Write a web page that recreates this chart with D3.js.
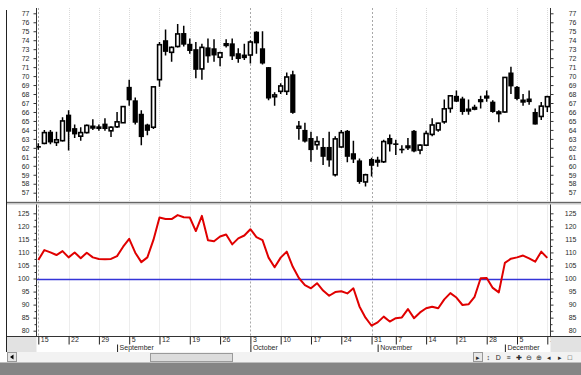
<!DOCTYPE html>
<meta charset="utf-8">
<style>
  body { margin: 0; background: #fff; }
  svg { display: block; }
  text, .tick text { font: 7px "Liberation Sans", Arial, sans-serif; fill: #2a2a2a; }
</style>
<svg width="581" height="375"></svg>
<script src="https://d3js.org/d3.v7.min.js"></script>
<script>
// trading days shown (one day of the Oct 31 week has no bar)
var dates = [
  "2005-08-15","2005-08-16","2005-08-17","2005-08-18","2005-08-19",
  "2005-08-22","2005-08-23","2005-08-24","2005-08-25","2005-08-26",
  "2005-08-29","2005-08-30","2005-08-31","2005-09-01","2005-09-02",
  "2005-09-05","2005-09-06","2005-09-07","2005-09-08","2005-09-09",
  "2005-09-12","2005-09-13","2005-09-14","2005-09-15","2005-09-16",
  "2005-09-19","2005-09-20","2005-09-21","2005-09-22","2005-09-23",
  "2005-09-26","2005-09-27","2005-09-28","2005-09-29","2005-09-30",
  "2005-10-03","2005-10-04","2005-10-05","2005-10-06","2005-10-07",
  "2005-10-10","2005-10-11","2005-10-12","2005-10-13","2005-10-14",
  "2005-10-17","2005-10-18","2005-10-19","2005-10-20","2005-10-21",
  "2005-10-24","2005-10-25","2005-10-26","2005-10-27","2005-10-28",
  "2005-10-31","2005-11-01","2005-11-02","2005-11-03",
  "2005-11-07","2005-11-08","2005-11-09","2005-11-10","2005-11-11",
  "2005-11-14","2005-11-15","2005-11-16","2005-11-17","2005-11-18",
  "2005-11-21","2005-11-22","2005-11-23","2005-11-24","2005-11-25",
  "2005-11-28","2005-11-29","2005-11-30","2005-12-01","2005-12-02",
  "2005-12-05","2005-12-06","2005-12-07","2005-12-08","2005-12-09",
  "2005-12-12"
];

var open = [
  62.2, 62.5, 63.8, 62.6, 62.8, 65.7, 64.2, 63.3, 63.7, 64.3,
  64.4, 64.7, 63.9, 64.35, 64.8, 68.8, 67.3, 65.8, 64.6, 64.3,
  69.6, 74.0, 72.65, 73.3, 74.8, 73.6, 73.0, 70.8, 73.2, 73.1,
  72.1, 73.5, 73.65, 72.55, 72.4, 72.35, 74.95, 73.1, 71.0, 67.7,
  68.3, 68.3, 70.2, 64.2, 64.0, 63.1, 62.35, 62.1, 62.1, 59.0,
  62.1, 63.9, 61.4, 60.6, 58.2, 60.75, 60.5, 60.45, 63.1, 62.5,
  61.9, 62.1, 63.9, 61.75, 62.3, 63.5, 64.0, 64.9, 66.4, 67.8,
  67.5, 66.3, 66.5, 67.35, 67.75, 67.15, 66.0, 66.0, 70.4, 68.8,
  67.25, 67.5, 66.0, 65.5, 66.6
];
var high = [
  62.5, 64.0, 64.0, 63.8, 65.4, 66.2, 64.6, 64.3, 64.6, 65.2,
  64.6, 65.3, 64.4, 66.0, 66.6, 69.6, 67.6, 66.2, 64.7, 68.8,
  73.8, 75.2, 73.3, 75.8, 75.6, 74.2, 73.8, 73.6, 74.2, 74.1,
  72.7, 74.1, 74.2, 73.1, 73.6, 74.0, 75.0, 75.0, 71.0, 68.2,
  69.2, 70.4, 70.6, 65.0, 64.8, 63.8, 63.3, 63.1, 63.8, 63.3,
  64.0, 64.0, 62.8, 60.8, 59.1, 60.9, 61.0, 62.9, 63.5, 62.9,
  62.3, 63.1, 64.0, 62.4, 63.9, 65.3, 64.8, 67.4, 67.8, 68.4,
  67.7, 67.4, 66.8, 67.8, 68.4, 67.3, 66.2, 69.9, 71.05, 68.9,
  68.0, 68.4, 66.4, 67.1, 67.8
];
var low = [
  61.8, 62.4, 62.4, 62.2, 62.7, 61.7, 63.1, 62.8, 63.6, 64.0,
  63.9, 63.9, 63.2, 64.2, 64.8, 66.7, 64.6, 62.3, 63.4, 64.1,
  68.8, 72.3, 71.6, 73.2, 73.3, 72.5, 69.75, 69.6, 71.5, 71.6,
  71.1, 73.2, 71.8, 71.5, 71.8, 71.4, 72.5, 71.3, 67.3, 66.7,
  68.0, 67.9, 65.8, 62.9, 62.6, 60.45, 61.8, 60.1, 59.9, 58.8,
  62.0, 60.4, 60.3, 58.0, 57.7, 58.8, 59.9, 60.3, 61.6, 61.2,
  61.4, 61.75, 61.5, 61.3, 62.2, 63.3, 63.8, 64.7, 65.9, 67.1,
  65.7, 65.7, 66.2, 66.4, 67.15, 65.9, 64.85, 65.9, 68.0, 67.3,
  66.7, 66.8, 64.6, 65.1, 66.0
];
var close = [
  62.1, 63.7, 62.6, 62.9, 65.0, 63.8, 63.5, 63.7, 64.5, 64.4,
  64.1, 64.1, 64.3, 64.9, 66.6, 67.3, 64.8, 63.2, 63.9, 68.8,
  73.5, 72.7, 73.2, 74.7, 73.5, 72.8, 70.7, 73.2, 72.2, 72.3,
  72.6, 73.6, 72.2, 71.9, 72.0, 73.8, 73.65, 71.4, 67.5, 67.9,
  68.9, 69.9, 65.9, 64.4, 62.7, 61.75, 62.7, 61.0, 60.6, 63.0,
  63.7, 61.0, 60.7, 58.2, 59.0, 60.0, 60.6, 62.7, 62.4, 62.4,
  61.85, 62.2, 61.6, 62.3, 63.6, 64.55, 64.75, 66.35, 67.8, 67.15,
  66.0, 66.3, 66.5, 67.35, 67.75, 66.0, 66.0, 69.85, 68.85, 67.45,
  67.3, 67.1, 64.6, 66.65, 67.7
];

// lower panel indicator
var ratio = [
  107.1, 110.9, 110.0, 109.0, 110.5, 108.1, 110.0, 107.8, 109.9, 108.1,
  107.5, 107.4, 107.5, 108.6, 112.2, 115.2, 109.9, 106.3, 108.1, 114.8,
  123.4, 122.8, 122.8, 124.3, 123.5, 123.4, 118.2, 124.0, 114.7, 114.3,
  116.1, 116.9, 113.1, 115.4, 116.5, 118.9, 115.9, 114.7, 108.0, 104.3,
  108.0, 110.3, 104.5, 100.2, 97.5, 96.25, 98.2, 95.4, 93.4, 94.8,
  95.1, 94.3, 96.25, 89.3, 85.0, 81.9, 83.2, 85.4, 83.5, 84.8,
  85.1, 88.3, 84.8, 87.0, 88.6, 89.2, 88.6, 92.0, 94.4, 92.7,
  89.85, 90.1, 93.0, 100.1, 100.2, 96.4, 94.7, 106.0, 107.6, 108.1,
  108.8, 107.7, 106.45, 110.3, 107.9
];

var priceTicks = [57,58,59,60,61,62,63,64,65,66,67,68,69,70,71,72,73,74,75,76,77];
var ratioTicks = [80,85,90,95,100,105,110,115,120,125];
var ratioMinor = [82.5,87.5,92.5,97.5,102.5,107.5,112.5,117.5,122.5];
var darkGridDates = ["2005-08-15","2005-10-03","2005-10-31"];
var monthNames = ["January","February","March","April","May","June","July",
                  "August","September","October","November","December"];

var svg = d3.select("svg");
var parse = d3.timeParse("%Y-%m-%d");

var L = 36.5, R = 550.5;
var topY0 = 8, topY1 = 201.5, botY0 = 204.5, botY1 = 336.5;

var x = d3.scalePoint().domain(dates).range([38.3, 547.3]);
var yP = d3.scaleLinear().domain([57, 77]).range([192.7, 13.3]);
var yR = d3.scaleLinear().domain([80, 125]).range([330.7, 213.3]);

var mondays = dates.filter(function (d) { return parse(d).getDay() === 1; });
var monthStarts = dates.filter(function (d, i) {
  return i > 0 && parse(d).getMonth() !== parse(dates[i - 1]).getMonth();
});

var defs = svg.append("defs");
defs.append("clipPath").attr("id", "clipTop").append("rect")
  .attr("x", L).attr("y", topY0).attr("width", R - L).attr("height", topY1 - topY0);
defs.append("clipPath").attr("id", "clipBot").append("rect")
  .attr("x", L).attr("y", botY0).attr("width", R - L).attr("height", botY1 - botY0);
defs.append("clipPath").attr("id", "clipAxis").append("rect")
  .attr("x", L).attr("y", botY1).attr("width", R - L).attr("height", 16);

// vertical grid in both panels
[[topY0, topY1], [botY0 + 1, botY1]].forEach(function (p) {
  svg.append("g").selectAll("line").data(mondays).enter().append("line")
    .attr("x1", function (d) { return Math.round(x(d)) + 0.5; })
    .attr("x2", function (d) { return Math.round(x(d)) + 0.5; })
    .attr("y1", p[0]).attr("y2", p[1])
    .attr("stroke", function (d) { return darkGridDates.indexOf(d) >= 0 ? "#a8a8a8" : "#dadada"; })
    .attr("stroke-dasharray", function (d) { return darkGridDates.indexOf(d) >= 0 ? "2,2" : "1,1"; });
});

// candles
var bars = dates.map(function (d, i) {
  return { d: d, o: open[i], h: high[i], l: low[i], c: close[i] };
});
var cg = svg.append("g").attr("clip-path", "url(#clipTop)");
cg.selectAll("line.wick").data(bars).enter().append("line")
  .attr("class", "wick")
  .attr("x1", function (b) { return x(b.d); })
  .attr("x2", function (b) { return x(b.d); })
  .attr("y1", function (b) { return yP(b.h); })
  .attr("y2", function (b) { return yP(b.l); })
  .attr("stroke", "#000").attr("stroke-width", 1.5);
cg.selectAll("rect.body").data(bars).enter().append("rect")
  .attr("class", "body")
  .attr("x", function (b) { return b.c >= b.o ? x(b.d) - 1.9 : x(b.d) - 2.6; })
  .attr("width", function (b) { return b.c >= b.o ? 3.8 : 5.2; })
  .attr("y", function (b) { return yP(Math.max(b.o, b.c)); })
  .attr("height", function (b) { return Math.max(1.6, Math.abs(yP(b.o) - yP(b.c))); })
  .attr("fill", function (b) { return b.c >= b.o ? "#fff" : "#000"; })
  .attr("stroke", function (b) { return b.c >= b.o ? "#000" : "none"; })
  .attr("stroke-width", 1.6);

// lower panel
svg.append("line").attr("x1", L).attr("x2", R)
  .attr("y1", Math.round(yR(100)) + 0.5).attr("y2", Math.round(yR(100)) + 0.5)
  .attr("stroke", "#3434d8").attr("stroke-width", 1.3);
svg.append("path").attr("clip-path", "url(#clipBot)")
  .datum(ratio)
  .attr("d", d3.line().x(function (d, i) { return x(dates[i]); }).y(function (d) { return yR(d); }))
  .attr("fill", "none").attr("stroke", "#e00000").attr("stroke-width", 2)
  .attr("stroke-linejoin", "round");

// y axes
function styleAxis(g) {
  g.select(".domain").remove();
  g.selectAll(".tick line").attr("stroke", "#333");
}
svg.append("g").attr("transform", "translate(" + L + ",0)")
  .call(d3.axisLeft(yP).tickValues(priceTicks).tickSize(3).tickPadding(4).tickFormat(d3.format("d")))
  .call(styleAxis);
svg.append("g").attr("transform", "translate(" + R + ",0)")
  .call(d3.axisRight(yP).tickValues(priceTicks).tickSize(3).tickFormat(d3.format("d")))
  .call(styleAxis)
  .selectAll("text").attr("text-anchor", "end").attr("x", 26);
svg.append("g").attr("transform", "translate(" + L + ",0)")
  .call(d3.axisLeft(yR).tickValues(ratioTicks).tickSize(3).tickPadding(4).tickFormat(d3.format("d")))
  .call(styleAxis);
svg.append("g").attr("transform", "translate(" + L + ",0)")
  .call(d3.axisLeft(yR).tickValues(ratioMinor).tickSize(2).tickFormat(""))
  .call(styleAxis);
svg.append("g").attr("transform", "translate(" + R + ",0)")
  .call(d3.axisRight(yR).tickValues(ratioTicks).tickSize(3).tickFormat(d3.format("d")))
  .call(styleAxis)
  .selectAll("text").attr("text-anchor", "end").attr("x", 26);
svg.append("g").attr("transform", "translate(" + R + ",0)")
  .call(d3.axisRight(yR).tickValues(ratioMinor).tickSize(2).tickFormat(""))
  .call(styleAxis);

// frame lines
svg.append("line").attr("x1", L).attr("x2", L).attr("y1", topY0).attr("y2", botY1).attr("stroke", "#333");
svg.append("line").attr("x1", R).attr("x2", R).attr("y1", topY0).attr("y2", botY1).attr("stroke", "#333");
svg.append("line").attr("x1", 6.5).attr("x2", 6.5).attr("y1", 10).attr("y2", 352).attr("stroke", "#222");
svg.append("rect").attr("x", 7).attr("y", 201.5).attr("width", 574).attr("height", 3).attr("fill", "#c8c8c8");
svg.append("line").attr("x1", 7).attr("x2", 581).attr("y1", 202.5).attr("y2", 202.5).attr("stroke", "#666");

// date axis
svg.append("rect").attr("x", 7).attr("y", botY1).attr("width", L - 7).attr("height", 15.5).attr("fill", "#e2e2e2");
svg.append("rect").attr("x", R).attr("y", botY1).attr("width", 581 - R).attr("height", 15.5).attr("fill", "#e2e2e2");
svg.append("line").attr("x1", 7).attr("x2", 581).attr("y1", botY1).attr("y2", botY1).attr("stroke", "#333");
var ax = svg.append("g").attr("clip-path", "url(#clipAxis)");
ax.append("g").attr("transform", "translate(0," + botY1 + ")")
  .call(d3.axisBottom(x).tickValues(mondays).tickSize(8).tickPadding(-6)
    .tickFormat(function (d) { return parse(d).getDate(); }))
  .call(function (g) {
    g.select(".domain").remove();
    g.selectAll(".tick line").attr("stroke", "#222");
    g.selectAll(".tick text").attr("text-anchor", "start").attr("x", 2).attr("dy", "0.55em");
  });
ax.append("g").attr("transform", "translate(0," + botY1 + ")")
  .call(d3.axisBottom(x).tickValues(monthStarts).tickSize(15.5).tickPadding(-6)
    .tickFormat(function (d) { return monthNames[parse(d).getMonth()]; }))
  .call(function (g) {
    g.select(".domain").remove();
    g.selectAll(".tick line").attr("stroke", "#222").attr("y1", 8);
    g.selectAll(".tick text").attr("text-anchor", "start").attr("x", 2).attr("y", 11.5).attr("dy", "0.32em");
  });

// scroll bar and tool buttons
svg.append("rect").attr("x", 7).attr("y", 352).attr("width", 574).attr("height", 10).attr("fill", "#f2f2f2");
svg.append("rect").attr("x", 7.5).attr("y", 352.5).attr("width", 9).attr("height", 9).attr("fill", "#e6e6e6").attr("stroke", "#999");
svg.append("path").attr("d", "M10,357 L13.5,354.5 L13.5,359.5 Z").attr("fill", "#000");
svg.append("rect").attr("x", 150.5).attr("y", 353.5).attr("width", 82).attr("height", 8).attr("fill", "#dcdcdc").attr("stroke", "#9a9a9a");
svg.append("rect").attr("x", 473.5).attr("y", 352.5).attr("width", 9).attr("height", 9).attr("fill", "#e8e8e8").attr("stroke", "#999");
var icons = ["\u25B8", "\u2195", "D", "\u2261", "\u271A", "\u2296", "\u2295", "\u25C2", "\u25B8", "\u25A1"];
svg.append("g").selectAll("text").data(icons).enter().append("text")
  .attr("x", function (d, i) { return 478 + i * 10.2; }).attr("y", 360)
  .attr("text-anchor", "middle").text(function (d) { return d; });
svg.append("rect").attr("x", 0).attr("y", 363).attr("width", 581).attr("height", 12).attr("fill", "#858585");
svg.append("line").attr("x1", 0).attr("x2", 581).attr("y1", 362.5).attr("y2", 362.5).attr("stroke", "#bdbdbd");
</script>
